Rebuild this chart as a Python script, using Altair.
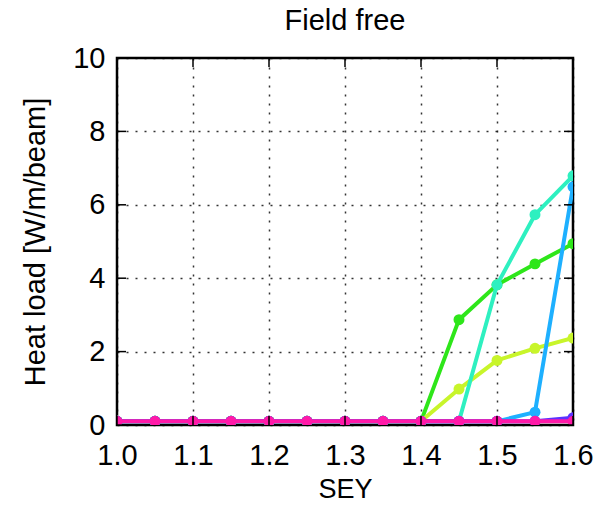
import altair as alt
import pandas as pd

sey = [1.0, 1.05, 1.1, 1.15, 1.2, 1.25, 1.3, 1.35, 1.4, 1.45, 1.5, 1.55, 1.6]
s1 = [0.1, 0.1, 0.1, 0.1, 0.1, 0.1, 0.1, 0.1, 0.1, 2.87, 3.82, 4.39, 4.94]   # green
s2 = [0.1, 0.1, 0.1, 0.1, 0.1, 0.1, 0.1, 0.1, 0.1, 0.98, 1.76, 2.09, 2.37]   # yellow-green
s3 = [0.1, 0.1, 0.1, 0.1, 0.1, 0.1, 0.1, 0.1, 0.1, 0.1, 3.82, 5.73, 6.79]    # aquamarine
s4 = [0.1, 0.1, 0.1, 0.1, 0.1, 0.1, 0.1, 0.1, 0.1, 0.1, 0.1, 0.35, 6.49]     # sky blue
s5 = [0.1, 0.1, 0.1, 0.1, 0.1, 0.1, 0.1, 0.1, 0.1, 0.1, 0.1, 0.1, 0.2]       # purple
s6 = [0.1, 0.1, 0.1, 0.1, 0.1, 0.1, 0.1, 0.1, 0.1, 0.1, 0.1, 0.1, 0.1]       # magenta

x_ticks = [1.0, 1.1, 1.2, 1.3, 1.4, 1.5, 1.6]
y_ticks = [0, 2, 4, 6, 8, 10]

names = ["s1", "s2", "s3", "s4", "s5", "s6"]
colors = ["#2ee61a", "#c8f52a", "#2ef0c0", "#1eb0ff", "#5a32ff", "#ff1aa8"]
series = [s1, s2, s3, s4, s5, s6]

W, H = 456, 367
FONT = "Liberation Sans"

rows = []
for i, (n, vals) in enumerate(zip(names, series)):
    for x, y in zip(sey, vals):
        rows.append({"SEY": x, "load": y, "series": n, "order": i})
df = pd.DataFrame(rows)

xs = alt.Scale(domain=[1.0, 1.6], nice=False)
ys = alt.Scale(domain=[0, 10], nice=False)
color = alt.Color("series:N", scale=alt.Scale(domain=names, range=colors), legend=None)

xenc = alt.X("SEY:Q", scale=xs, title="SEY",
             axis=alt.Axis(values=x_ticks, format=".1f", labelFlush=False))
yenc = alt.Y("load:Q", scale=ys, title="Heat load [W/m/beam]",
             axis=alt.Axis(values=y_ticks, format="d"))

layers = []
for i, n in enumerate(names):
    d = df[df.series == n]
    base = alt.Chart(d).encode(x=xenc, y=yenc, color=color)
    layers.append(base.mark_line(strokeWidth=4, clip=True))
    layers.append(base.mark_circle(size=120, opacity=1, clip=True))

# inward ticks on all four sides (gnuplot style)
xt = pd.DataFrame({"SEY": x_ticks})
yt = pd.DataFrame({"load": y_ticks})
TL = 9
layers.append(alt.Chart(xt).mark_rule(color="black", strokeWidth=1.5).encode(
    x=alt.X("SEY:Q", scale=xs), y=alt.value(H), y2=alt.value(H - TL)))
layers.append(alt.Chart(xt).mark_rule(color="black", strokeWidth=1.5).encode(
    x=alt.X("SEY:Q", scale=xs), y=alt.value(0), y2=alt.value(TL)))
layers.append(alt.Chart(yt).mark_rule(color="black", strokeWidth=1.5).encode(
    y=alt.Y("load:Q", scale=ys), x=alt.value(0), x2=alt.value(TL)))
layers.append(alt.Chart(yt).mark_rule(color="black", strokeWidth=1.5).encode(
    y=alt.Y("load:Q", scale=ys), x=alt.value(W), x2=alt.value(W - TL)))

chart = alt.layer(*layers).properties(
    width=W, height=H,
    title=alt.TitleParams("Field free", fontSize=29, font=FONT, color="black",
                          fontWeight="normal", offset=8),
    autosize=alt.AutoSizeParams(type="none"),
    padding={"left": 117, "top": 58, "right": 38, "bottom": 81},
).configure_view(
    stroke="black", strokeWidth=2.5
).configure_axis(
    labelFont=FONT, titleFont=FONT,
    labelFontSize=29, titleFontSize=29, titleFontWeight="normal",
    labelColor="black", titleColor="black",
    grid=True, gridColor="black", gridDash=[2, 7], gridWidth=1.5, gridOpacity=0.8,
    domain=False, ticks=False,
).configure_axisX(labelPadding=16, titlePadding=6, titleFontSize=27
).configure_axisY(labelPadding=12, titlePadding=22)

chart.save("out.html", embed_options={"renderer": "svg", "actions": False})
